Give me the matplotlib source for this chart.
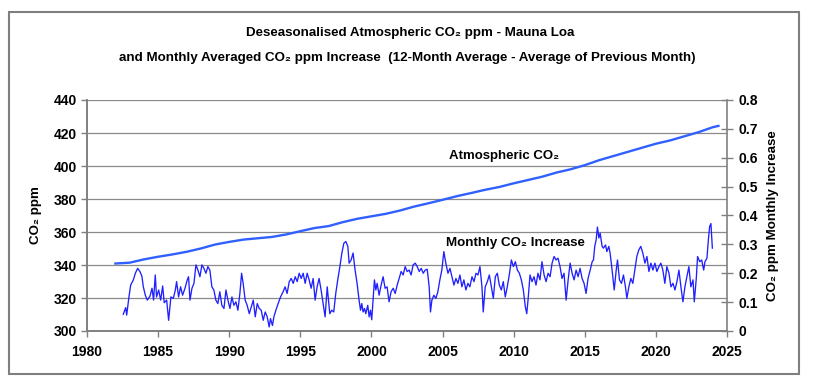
import matplotlib
matplotlib.use("Agg")
import matplotlib.pyplot as plt
from matplotlib.patches import Rectangle

plt.rcParams['font.family'] = ['Liberation Sans', 'DejaVu Sans']

# Deseasonalised CO2 (ppm)
co2_years = [1982.0, 1983.0, 1983.7, 1984.0, 1985.0, 1986.0, 1987.0, 1988.0, 1989.0,
             1990.0, 1991.0, 1992.0, 1993.0, 1994.0, 1995.0, 1996.0, 1997.0, 1998.0,
             1999.0, 2000.0, 2001.0, 2002.0, 2003.0, 2004.0, 2005.0, 2006.0, 2007.0,
             2008.0, 2009.0, 2010.0, 2011.0, 2012.0, 2013.0, 2014.0, 2015.0, 2016.0,
             2017.0, 2018.0, 2019.0, 2020.0, 2021.0, 2022.0, 2023.0, 2024.0, 2024.4]
co2_ppm = [340.9, 341.4, 342.8, 343.4, 345.0, 346.4, 348.0, 350.0, 352.4,
           354.0, 355.4, 356.2, 357.0, 358.5, 360.5, 362.4, 363.6, 366.0,
           368.0, 369.5, 371.0, 373.0, 375.4, 377.4, 379.5, 381.7, 383.6,
           385.6, 387.3, 389.5, 391.5, 393.5, 396.0, 398.0, 400.5, 403.5,
           406.0, 408.5, 411.0, 413.5, 415.5, 418.0, 420.5, 423.5, 424.3]

# Monthly CO2 increase (ppm)
inc_years = [1982.55, 1982.72, 1982.79, 1982.95, 1983.07, 1983.26, 1983.40, 1983.56, 1983.72,
             1983.86, 1983.96, 1984.10, 1984.24, 1984.43, 1984.57, 1984.68, 1984.80, 1984.89,
             1985.04, 1985.18, 1985.32, 1985.43, 1985.60, 1985.74, 1985.90, 1986.07, 1986.21,
             1986.30, 1986.44, 1986.58, 1986.72, 1986.89, 1987.05, 1987.14, 1987.24, 1987.38,
             1987.52, 1987.66, 1987.80, 1987.94, 1988.08, 1988.22, 1988.36, 1988.50, 1988.64,
             1988.78, 1988.92, 1989.06, 1989.20, 1989.34, 1989.48, 1989.63, 1989.77, 1989.91,
             1990.05, 1990.19, 1990.33, 1990.47, 1990.61, 1990.75, 1990.87, 1990.98, 1991.12,
             1991.26, 1991.41, 1991.55, 1991.69, 1991.83, 1991.97, 1992.11, 1992.25, 1992.39,
             1992.53, 1992.67, 1992.81, 1992.90, 1993.04, 1993.14, 1993.28, 1993.44, 1993.61,
             1993.79, 1993.93, 1994.07, 1994.22, 1994.36, 1994.50, 1994.64, 1994.78, 1994.92,
             1995.06, 1995.20, 1995.34, 1995.48, 1995.62, 1995.76, 1995.90, 1996.04, 1996.18,
             1996.32, 1996.46, 1996.60, 1996.74, 1996.89, 1996.98, 1997.07, 1997.21, 1997.35,
             1997.49, 1997.63, 1997.78, 1997.92, 1998.06, 1998.20, 1998.34, 1998.43, 1998.57,
             1998.71, 1998.85, 1998.99, 1999.13, 1999.23, 1999.32, 1999.41, 1999.51, 1999.60,
             1999.74, 1999.84, 1999.93, 2000.02, 2000.12, 2000.21, 2000.31, 2000.40, 2000.54,
             2000.68, 2000.82, 2000.96, 2001.10, 2001.24, 2001.38, 2001.53, 2001.67, 2001.81,
             2001.95, 2002.09, 2002.23, 2002.37, 2002.51, 2002.65, 2002.79, 2002.93, 2003.08,
             2003.22, 2003.36, 2003.50, 2003.64, 2003.78, 2003.92, 2004.06, 2004.15, 2004.25,
             2004.39, 2004.53, 2004.67, 2004.81, 2004.95, 2005.09, 2005.23, 2005.38, 2005.52,
             2005.66, 2005.80, 2005.94, 2006.08, 2006.22, 2006.36, 2006.50, 2006.64, 2006.78,
             2006.92, 2007.07, 2007.21, 2007.35, 2007.49, 2007.63, 2007.77, 2007.86, 2008.00,
             2008.15, 2008.29, 2008.43, 2008.57, 2008.71, 2008.85, 2008.99, 2009.13, 2009.27,
             2009.41, 2009.55, 2009.69, 2009.84, 2009.98, 2010.12, 2010.26, 2010.40, 2010.54,
             2010.68, 2010.82, 2010.92, 2011.01, 2011.15, 2011.29, 2011.43, 2011.57, 2011.71,
             2011.85, 2011.99, 2012.14, 2012.28, 2012.42, 2012.56, 2012.70, 2012.84, 2012.98,
             2013.12, 2013.26, 2013.40, 2013.54, 2013.69, 2013.83, 2013.97, 2014.11, 2014.25,
             2014.39, 2014.53, 2014.67, 2014.81, 2014.95, 2015.09, 2015.23, 2015.38, 2015.52,
             2015.61, 2015.70, 2015.80, 2015.89, 2015.99, 2016.08, 2016.22, 2016.31, 2016.46,
             2016.55, 2016.69, 2016.78, 2016.92, 2017.07, 2017.21, 2017.30, 2017.44, 2017.58,
             2017.72, 2017.86, 2017.96, 2018.10, 2018.24, 2018.38, 2018.52, 2018.66, 2018.80,
             2018.94, 2019.08, 2019.23, 2019.37, 2019.51, 2019.65, 2019.79, 2019.93, 2020.07,
             2020.21, 2020.35, 2020.49, 2020.63, 2020.77, 2020.92, 2021.06, 2021.20, 2021.34,
             2021.48, 2021.62, 2021.76, 2021.90, 2022.04, 2022.18, 2022.32, 2022.46, 2022.61,
             2022.70, 2022.84, 2022.93, 2023.08, 2023.22, 2023.36, 2023.45, 2023.59, 2023.69,
             2023.78, 2023.87, 2023.97]
inc_ppm = [0.058, 0.081, 0.055, 0.118, 0.159, 0.177, 0.200, 0.217, 0.206,
           0.190, 0.153, 0.124, 0.107, 0.121, 0.148, 0.107, 0.194, 0.118,
           0.142, 0.107, 0.156, 0.098, 0.107, 0.037, 0.118, 0.113, 0.142,
           0.171, 0.118, 0.153, 0.124, 0.148, 0.177, 0.188, 0.107, 0.148,
           0.165, 0.229, 0.211, 0.188, 0.229, 0.217, 0.200, 0.223, 0.211,
           0.153, 0.142, 0.107, 0.095, 0.136, 0.089, 0.078, 0.142, 0.107,
           0.078, 0.118, 0.089, 0.101, 0.072, 0.130, 0.200, 0.165, 0.107,
           0.089, 0.060, 0.084, 0.107, 0.049, 0.095, 0.078, 0.072, 0.037,
           0.066, 0.049, 0.014, 0.043, 0.019, 0.049, 0.072, 0.095, 0.118,
           0.136, 0.153, 0.130, 0.171, 0.182, 0.165, 0.188, 0.171, 0.200,
           0.182, 0.200, 0.165, 0.200, 0.177, 0.148, 0.182, 0.107, 0.153,
           0.182, 0.142, 0.095, 0.049, 0.153, 0.107, 0.060, 0.072, 0.066,
           0.130, 0.177, 0.223, 0.270, 0.304, 0.310, 0.293, 0.235, 0.246,
           0.270, 0.211, 0.165, 0.107, 0.072, 0.095, 0.066, 0.078, 0.060,
           0.089, 0.049, 0.072, 0.039, 0.113, 0.177, 0.142, 0.165, 0.124,
           0.159, 0.188, 0.148, 0.153, 0.101, 0.136, 0.148, 0.130, 0.159,
           0.182, 0.206, 0.194, 0.223, 0.206, 0.211, 0.194, 0.229, 0.235,
           0.223, 0.206, 0.217, 0.200, 0.211, 0.214, 0.153, 0.066, 0.107,
           0.124, 0.113, 0.136, 0.177, 0.211, 0.275, 0.235, 0.200, 0.217,
           0.188, 0.159, 0.182, 0.165, 0.194, 0.153, 0.177, 0.142, 0.165,
           0.153, 0.188, 0.171, 0.200, 0.194, 0.223, 0.153, 0.066, 0.153,
           0.171, 0.194, 0.153, 0.113, 0.188, 0.200, 0.159, 0.142, 0.171,
           0.118, 0.153, 0.194, 0.246, 0.223, 0.240, 0.211, 0.200, 0.177,
           0.142, 0.084, 0.060, 0.107, 0.194, 0.171, 0.188, 0.159, 0.200,
           0.177, 0.240, 0.194, 0.171, 0.200, 0.188, 0.235, 0.258, 0.246,
           0.252, 0.223, 0.182, 0.200, 0.107, 0.177, 0.235, 0.200, 0.177,
           0.211, 0.188, 0.217, 0.182, 0.165, 0.130, 0.182, 0.211, 0.240,
           0.246, 0.293, 0.316, 0.360, 0.322, 0.339, 0.293, 0.287, 0.298,
           0.275, 0.293, 0.270, 0.211, 0.142, 0.211, 0.246, 0.177, 0.165,
           0.194, 0.153, 0.113, 0.153, 0.182, 0.165, 0.211, 0.258, 0.281,
           0.293, 0.270, 0.235, 0.258, 0.206, 0.235, 0.211, 0.235, 0.206,
           0.223, 0.235, 0.211, 0.165, 0.223, 0.200, 0.153, 0.165, 0.142,
           0.171, 0.211, 0.153, 0.101, 0.153, 0.188, 0.223, 0.153, 0.177,
           0.101, 0.182, 0.258, 0.240, 0.246, 0.211, 0.240, 0.252, 0.316,
           0.362, 0.372, 0.287]

x_ticks = [1980, 1985, 1990, 1995, 2000, 2005, 2010, 2015, 2020, 2025]
left_ticks = [300, 320, 340, 360, 380, 400, 420, 440]
right_ticks = [0, 0.1, 0.2, 0.3, 0.4, 0.5, 0.6, 0.7, 0.8]

title_1 = "Deseasonalised Atmospheric CO₂ ppm - Mauna Loa"
title_2 = "and Monthly Averaged CO₂ ppm Increase  (12-Month Average - Average of Previous Month)"

W, H = 826, 386
fig = plt.figure(figsize=(W / 100, H / 100), dpi=100)
fig.patches.append(Rectangle((9 / W, 1 - 374 / H), 790 / W, 362 / H, transform=fig.transFigure,
                             fill=False, edgecolor='#7f7f7f', linewidth=1.5))

ax = fig.add_axes([87 / W, 1 - 331 / H, 640 / W, 231 / H])
ax2 = ax.twinx()

gray = '#808080'
ax.set_xlim(1980, 2025)
ax.set_ylim(300, 440)
ax2.set_ylim(0, 0.8)
ax.set_xticks(x_ticks)
ax.set_yticks(left_ticks)
ax2.set_yticks(right_ticks)
ax2.set_yticklabels(['0' if v == 0 else f'{v:.1f}' for v in right_ticks])

ax.yaxis.grid(True, color='#8a8a8a', linewidth=0.9)
ax.set_axisbelow(True)

ax.plot(co2_years, co2_ppm, color='#3060ff', linewidth=1.7, zorder=3)
ax2.plot(inc_years, inc_ppm, color='#2020ff', linewidth=0.95, zorder=3)

for a in (ax, ax2):
    a.spines['top'].set_visible(False)
    for s in ('left', 'right', 'bottom'):
        a.spines[s].set_color(gray)
        a.spines[s].set_linewidth(1.2)
    a.tick_params(colors='black', labelsize=10, width=1, length=4)
    for lab in a.get_yticklabels() + a.get_xticklabels():
        lab.set_fontweight('bold')
ax.spines['right'].set_visible(False)
ax.tick_params(axis='y', direction='out', color=gray, pad=3)
ax.tick_params(axis='x', direction='out', color=gray, pad=6)
ax2.tick_params(axis='y', direction='inout', length=8, color=gray, pad=4)

ax.set_ylabel("CO₂ ppm", fontsize=9.6, fontweight='bold', labelpad=9)
ax2.set_ylabel("CO₂ ppm Monthly Increase", fontsize=9.6, fontweight='bold', labelpad=7)

ax.text(2009.3, 406, "Atmospheric CO₂", fontsize=9.5, fontweight='bold',
        ha='center', va='center', zorder=4)
ax.text(2010.1, 353.3, "Monthly CO₂ Increase", fontsize=9.6, fontweight='bold',
        ha='center', va='center', zorder=4)

fig.text(0.496, 1 - 33 / H, title_1, fontsize=9.6, fontweight='bold', ha='center', va='center')
fig.text(0.493, 1 - 58 / H, title_2, fontsize=9.6, fontweight='bold', ha='center', va='center')

fig.savefig("out.png", dpi=100)
